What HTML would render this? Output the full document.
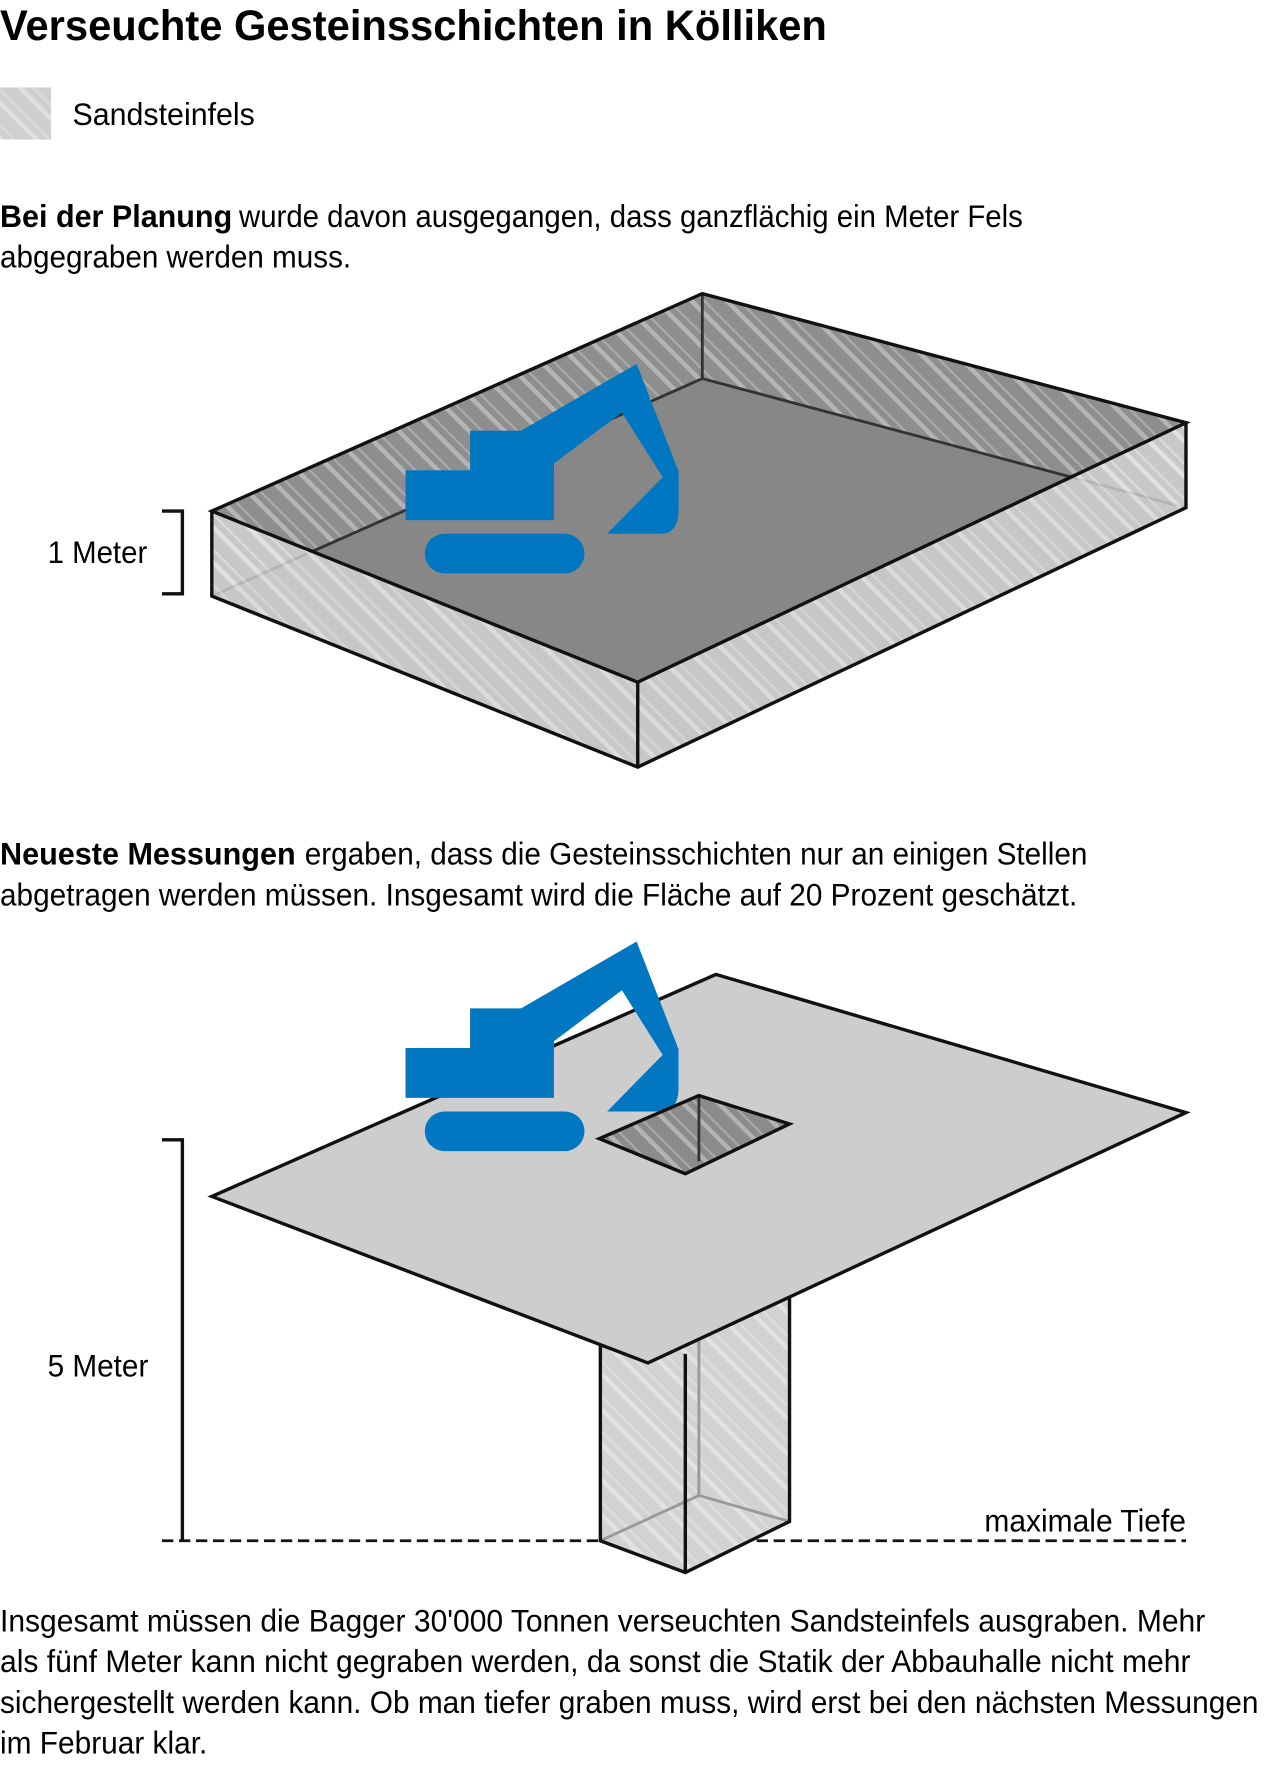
<!DOCTYPE html>
<html><head><meta charset="utf-8"><style>html,body{margin:0;padding:0;background:#fff}svg{display:block}</style></head>
<body>
<svg width="1280" height="1780" viewBox="0 0 1130 1571" xmlns="http://www.w3.org/2000/svg" font-family="'Liberation Sans Narrow','Liberation Sans',sans-serif">
<defs>
<pattern id="h" patternUnits="userSpaceOnUse" width="22" height="22" patternTransform="rotate(-45)">
<rect x="0" y="0" width="4" height="22" fill="#fff" fill-opacity="0.35"/>
<rect x="9" y="0" width="2" height="22" fill="#fff" fill-opacity="0.25"/>
</pattern>
<g id="exc" fill="#0077c0">
<rect x="358" y="415" width="131" height="44"/>
<rect x="415" y="380" width="74" height="36"/>
<path d="M460 380 L562 321 L599 416 L599 450 Q599 471 583 471 L536 471 L585 421 L549 364 L489 409 L489 416 L460 416 Z"/>
<rect x="375" y="471" width="141" height="35" rx="17.5"/>
</g>
</defs>

<text x="0" y="35" font-size="38" font-weight="bold" textLength="730" lengthAdjust="spacingAndGlyphs">Verseuchte Gesteinsschichten in Kölliken</text>
<rect x="0" y="77" width="45" height="46" fill="#cfcfcf"/>
<rect x="0" y="77" width="45" height="46" fill="url(#h)"/>
<text x="64" y="110" font-size="28" textLength="161" lengthAdjust="spacingAndGlyphs">Sandsteinfels</text>

<text x="0" y="200" font-size="28" font-weight="bold" textLength="205" lengthAdjust="spacingAndGlyphs">Bei der Planung</text>
<text x="211" y="200" font-size="28" textLength="692" lengthAdjust="spacingAndGlyphs">wurde davon ausgegangen, dass ganzflächig ein Meter Fels</text>
<text x="0" y="236" font-size="28" textLength="310" lengthAdjust="spacingAndGlyphs">abgegraben werden muss.</text>

<!-- Box 1 -->
<polygon points="187,451 620,259 620,334 187,526" fill="#8e8e8e"/>
<polygon points="187,451 620,259 620,334 187,526" fill="url(#h)"/>
<polygon points="620,259 1047,373 1047,448 620,334" fill="#8e8e8e"/>
<polygon points="620,259 1047,373 1047,448 620,334" fill="url(#h)"/>
<polygon points="187,526 620,334 1047,448 563,677" fill="#878787"/>
<line x1="620" y1="259" x2="620" y2="334" stroke="#333" stroke-width="2.5"/>
<polyline points="187,526 620,334 1047,448" fill="none" stroke="#333" stroke-width="2.5"/>
<use href="#exc"/>
<polygon points="187,451 563,602 563,677 187,526" fill="#d8d8d8" fill-opacity="0.78"/>
<polygon points="187,451 563,602 563,677 187,526" fill="url(#h)"/>
<polygon points="563,602 1047,373 1047,448 563,677" fill="#d8d8d8" fill-opacity="0.78"/>
<polygon points="563,602 1047,373 1047,448 563,677" fill="url(#h)"/>
<g fill="none" stroke="#111" stroke-width="3" stroke-linejoin="miter">
<polygon points="187,451 620,259 1047,373 563,602"/>
<polyline points="187,451 187,526 563,677 1047,448 1047,373"/>
<line x1="563" y1="602" x2="563" y2="677"/>
<polyline points="143,451 161,451 161,524 143,524"/>
</g>
<text x="42" y="497" font-size="28" textLength="88" lengthAdjust="spacingAndGlyphs">1 Meter</text>

<text x="0" y="763" font-size="28" font-weight="bold" textLength="261" lengthAdjust="spacingAndGlyphs">Neueste Messungen</text>
<text x="269" y="763" font-size="28" textLength="691" lengthAdjust="spacingAndGlyphs">ergaben, dass die Gesteinsschichten nur an einigen Stellen</text>
<text x="0" y="799" font-size="28" textLength="951" lengthAdjust="spacingAndGlyphs">abgetragen werden müssen. Insgesamt wird die Fläche auf 20 Prozent geschätzt.</text>

<!-- Scene 2 -->
<line x1="143" y1="1360" x2="1047" y2="1360" stroke="#111" stroke-width="2.5" stroke-dasharray="10,5"/>
<polygon points="530,1150 617,1110 697,1130 697,1343 605,1388 530,1360" fill="#d2d2d2"/>
<polygon points="530,1150 617,1110 697,1130 697,1343 605,1388 530,1360" fill="url(#h)"/>
<polyline points="530,1360 617,1320 697,1343" fill="none" stroke="#999" stroke-width="2.5"/>
<line x1="617" y1="1180" x2="617" y2="1320" stroke="#999" stroke-width="2.5"/>
<g fill="none" stroke="#111" stroke-width="3">
<polyline points="530,1180 530,1360 605,1388 697,1343 697,1140"/>
<line x1="605" y1="1195" x2="605" y2="1388"/>
</g>
<polygon points="187,1056 632,860 1047,982 572,1203" fill="#cdcdcd" stroke="#111" stroke-width="3" stroke-linejoin="miter"/>
<use href="#exc" transform="translate(0,510)"/>
<polygon points="529,1005 617,967 697,992 605,1036" fill="#8b8b8b"/>
<polygon points="529,1005 617,967 697,992 605,1036" fill="url(#h)"/>
<line x1="617" y1="967" x2="617" y2="1025" stroke="#333" stroke-width="2.5"/>
<polygon points="529,1005 617,967 697,992 605,1036" fill="none" stroke="#111" stroke-width="3"/>
<polyline points="143,1006 161,1006 161,1360" fill="none" stroke="#111" stroke-width="3"/>
<text x="42" y="1215" font-size="28" textLength="89" lengthAdjust="spacingAndGlyphs">5 Meter</text>
<text x="869" y="1352" font-size="28" textLength="178" lengthAdjust="spacingAndGlyphs">maximale Tiefe</text>

<text x="0" y="1440" font-size="28" textLength="1064" lengthAdjust="spacingAndGlyphs">Insgesamt müssen die Bagger 30'000 Tonnen verseuchten Sandsteinfels ausgraben. Mehr</text>
<text x="0" y="1476" font-size="28" textLength="1051" lengthAdjust="spacingAndGlyphs">als fünf Meter kann nicht gegraben werden, da sonst die Statik der Abbauhalle nicht mehr</text>
<text x="0" y="1512" font-size="28" textLength="1111" lengthAdjust="spacingAndGlyphs">sichergestellt werden kann. Ob man tiefer graben muss, wird erst bei den nächsten Messungen</text>
<text x="0" y="1548" font-size="28" textLength="183" lengthAdjust="spacingAndGlyphs">im Februar klar.</text>
</svg>
</body></html>
